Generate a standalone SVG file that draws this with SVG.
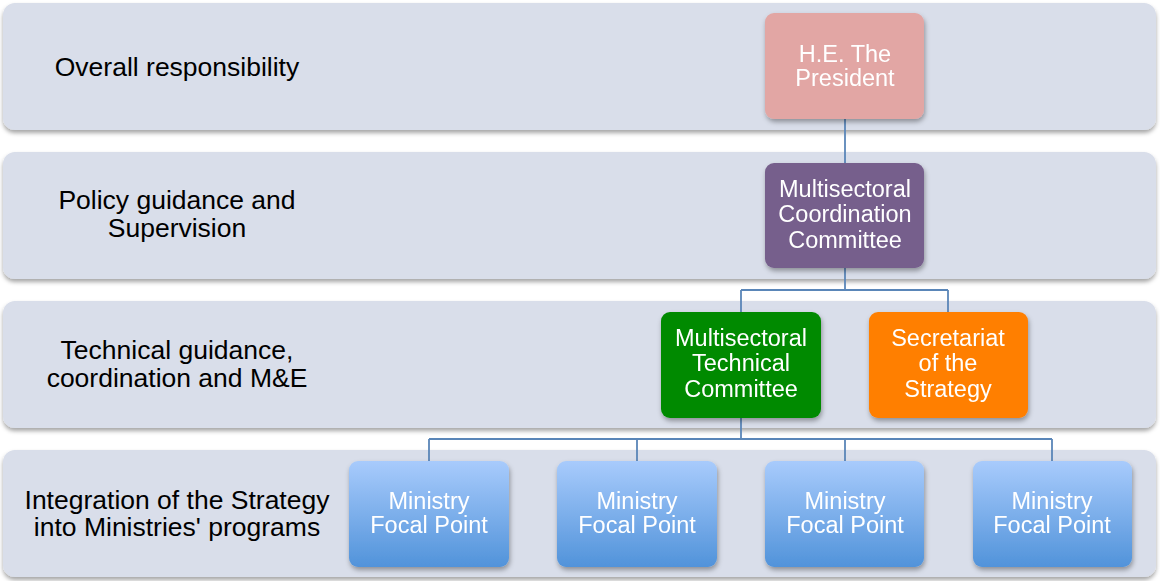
<svg xmlns="http://www.w3.org/2000/svg" width="1160" height="581" viewBox="0 0 1160 581">
<defs>
<filter id="bandShadow" x="-5%" y="-10%" width="110%" height="130%">
<feDropShadow dx="0" dy="3" stdDeviation="2" flood-color="#000" flood-opacity="0.35"/>
</filter>
<filter id="nodeShadow" x="-10%" y="-10%" width="125%" height="130%">
<feDropShadow dx="1" dy="3" stdDeviation="2.5" flood-color="#000" flood-opacity="0.35"/>
</filter>
<linearGradient id="minGrad" x1="0" y1="0" x2="0" y2="1">
<stop offset="0" stop-color="#a8cbfc"/>
<stop offset="1" stop-color="#5193da"/>
</linearGradient>
<style>
.band{fill:#d9deea;filter:url(#bandShadow)}
.node{filter:url(#nodeShadow)}
.lbl{font-family:"Liberation Sans",Arial,sans-serif;font-size:26.5px;fill:#000;text-anchor:middle}
.nt{font-family:"Liberation Sans",Arial,sans-serif;font-size:23.5px;fill:#fff;text-anchor:middle}
.conn{fill:none;stroke:#5a86b8;stroke-width:1.8}
</style>
</defs>
<rect width="1160" height="581" fill="#fff"/>
<g id="bands">
<g id="band1"><rect class="band" x="3" y="3" width="1153" height="127" rx="12"/>
<text class="lbl" x="177" y="76">Overall responsibility</text></g>
<g id="band2"><rect class="band" x="3" y="152" width="1153" height="127" rx="12"/>
<text class="lbl" x="177" y="209">Policy guidance and</text>
<text class="lbl" x="177" y="237">Supervision</text></g>
<g id="band3"><rect class="band" x="3" y="301" width="1153" height="127" rx="12"/>
<text class="lbl" x="177" y="359">Technical guidance,</text>
<text class="lbl" x="177" y="387">coordination and M&amp;E</text></g>
<g id="band4"><rect class="band" x="3" y="450" width="1153" height="127" rx="12"/>
<text class="lbl" x="177" y="509">Integration of the Strategy</text>
<text class="lbl" x="177" y="536">into Ministries' programs</text></g>
</g>
<g id="connectors">
<path class="conn" d="M845 119V163"/>
<path class="conn" d="M845 268V290M741 290H948M741 290V312M948 290V312"/>
<path class="conn" d="M741 418V439M429 439H1052M429 439V461M637 439V461M845 439V461M1052 439V461"/>
</g>
<g id="president" class="node"><rect x="765" y="13" width="159" height="106" rx="9" fill="#e2a6a4"/>
<text class="nt" x="845" y="62">H.E. The</text><text class="nt" x="845" y="86">President</text></g>
<g id="mcc" class="node"><rect x="765" y="163" width="159" height="105" rx="9" fill="#765e8c"/>
<text class="nt" x="845" y="197">Multisectoral</text><text class="nt" x="845" y="222">Coordination</text><text class="nt" x="845" y="248">Committee</text></g>
<g id="mtc" class="node"><rect x="661" y="312" width="160" height="106" rx="9" fill="#008a00"/>
<text class="nt" x="741" y="346">Multisectoral</text><text class="nt" x="741" y="371">Technical</text><text class="nt" x="741" y="397">Committee</text></g>
<g id="secretariat" class="node"><rect x="869" y="312" width="159" height="106" rx="9" fill="#ff7f00"/>
<text class="nt" x="948" y="346">Secretariat</text><text class="nt" x="948" y="371">of the</text><text class="nt" x="948" y="397">Strategy</text></g>
<g id="mfp1" class="node"><rect x="349" y="461" width="160" height="106" rx="9" fill="url(#minGrad)"/>
<text class="nt" x="429" y="509">Ministry</text><text class="nt" x="429" y="533">Focal Point</text></g>
<g id="mfp2" class="node"><rect x="557" y="461" width="160" height="106" rx="9" fill="url(#minGrad)"/>
<text class="nt" x="637" y="509">Ministry</text><text class="nt" x="637" y="533">Focal Point</text></g>
<g id="mfp3" class="node"><rect x="765" y="461" width="159" height="106" rx="9" fill="url(#minGrad)"/>
<text class="nt" x="845" y="509">Ministry</text><text class="nt" x="845" y="533">Focal Point</text></g>
<g id="mfp4" class="node"><rect x="973" y="461" width="159" height="106" rx="9" fill="url(#minGrad)"/>
<text class="nt" x="1052" y="509">Ministry</text><text class="nt" x="1052" y="533">Focal Point</text></g>
</svg>
